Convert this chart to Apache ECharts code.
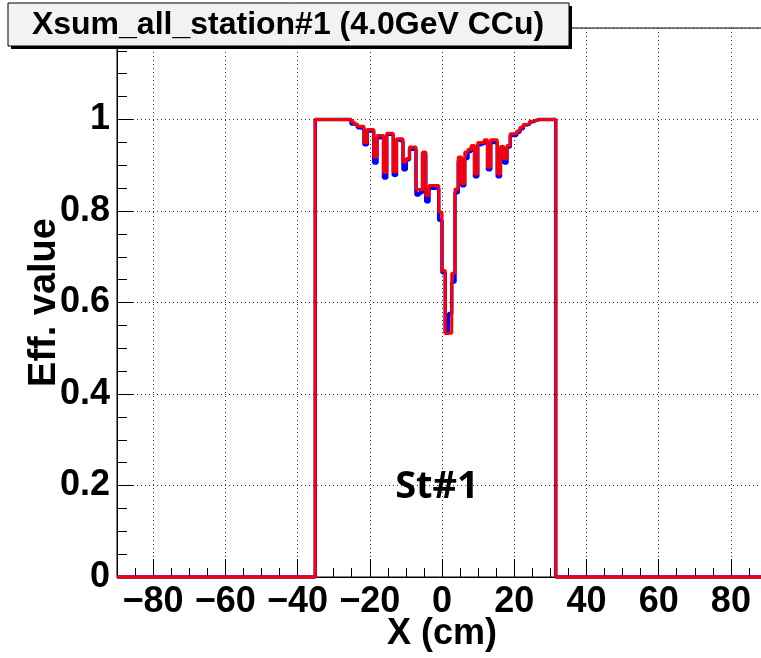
<!DOCTYPE html>
<html>
<head>
<meta charset="utf-8">
<script src="https://cdn.jsdelivr.net/npm/echarts@6/dist/echarts.min.js"></script>
<style>
  html, body { margin: 0; padding: 0; background: #fff; }
  #chart { width: 761px; height: 658px; }
</style>
</head>
<body>
<div id="chart"></div>
<script>
// histogram bins: 200 bins of 0.9 cm from -90 to 90, only the filled ones listed
var xMin = -90, xMax = 90;
var firstEdge = -35.1, binWidth = 0.9;
var yTicks = [0, 0.2, 0.4, 0.6, 0.8, 1];

var redEff = [
  1, 1, 1, 1, 1, 1, 1, 1, 1, 1, 1,
  0.995, 0.99, 0.985, 0.985, 0.95, 0.978, 0.978, 0.918, 0.965, 0.965,
  0.884, 0.97, 0.97, 0.885, 0.958, 0.958, 0.907, 0.915, 0.94, 0.94,
  0.847, 0.847, 0.929, 0.834, 0.856, 0.856, 0.856, 0.798, 0.67, 0.533,
  0.533, 0.664, 0.848, 0.918, 0.86, 0.929, 0.935, 0.943, 0.881, 0.95,
  0.95, 0.956, 0.896, 0.956, 0.956, 0.881, 0.941, 0.914, 0.943, 0.969,
  0.969, 0.975, 0.983, 0.989, 0.991, 0.996, 0.998,
  1, 1, 1, 1, 1, 1
];
var blueEff = [
  1, 1, 1, 1, 1, 1, 1, 1, 1, 1, 1,
  0.99, 0.988, 0.982, 0.98, 0.945, 0.975, 0.975, 0.905, 0.96, 0.962,
  0.872, 0.968, 0.966, 0.878, 0.955, 0.952, 0.89, 0.912, 0.935, 0.935,
  0.835, 0.84, 0.925, 0.82, 0.85, 0.85, 0.85, 0.78, 0.665, 0.533,
  0.576, 0.645, 0.84, 0.91, 0.855, 0.915, 0.93, 0.94, 0.875, 0.945,
  0.948, 0.952, 0.89, 0.95, 0.95, 0.875, 0.935, 0.905, 0.94, 0.965,
  0.965, 0.972, 0.98, 0.988, 0.99, 0.995, 0.998,
  1, 1, 1, 1, 1, 1
];

function histPoints(vals) {
  var pts = [[xMin, 0]];
  vals.forEach(function (v, i) {
    pts.push([+(firstEdge + i * binWidth).toFixed(2), v]);
  });
  pts.push([+(firstEdge + vals.length * binWidth).toFixed(2), 0]);
  pts.push([xMax, 0]);
  return pts;
}

var font = 'Liberation Sans, Arial, sans-serif';
var myChart = echarts.init(document.getElementById('chart'));

var option = {
  animation: false,
  grid: {
    left: 117, top: 28, right: -6, bottom: 81,
    outerBoundsMode: 'none',
    show: true, borderColor: '#000', borderWidth: 1, backgroundColor: '#fff'
  },
  xAxis: [
    {
      type: 'value', min: xMin, max: xMax, splitNumber: 9,
      name: 'X (cm)', nameLocation: 'middle', nameGap: 39, nameMoveOverlap: false,
      nameTextStyle: { fontFamily: font, fontWeight: 'bold', fontSize: 36, color: '#000' },
      axisLine: { show: true, onZero: false, lineStyle: { color: '#000', width: 1 } },
      axisTick: { show: true, inside: true, length: 18, lineStyle: { color: '#000' } },
      axisLabel: {
        margin: 7, fontFamily: font, fontWeight: 'bold', fontSize: 36, color: '#000',
        showMinLabel: false, showMaxLabel: false,
        formatter: function (v) { return String(v).replace('-', '\u2212'); }
      },
      splitLine: { show: true, lineStyle: { color: '#333', type: [1, 3], width: 1 } }
    },
    {
      // minor ticks every 5 cm
      type: 'value', min: xMin, max: xMax, interval: 5, position: 'bottom',
      axisLine: { show: false },
      axisTick: { show: true, inside: true, length: 9, lineStyle: { color: '#000' } },
      axisLabel: { show: false },
      splitLine: { show: false }
    }
  ],
  yAxis: {
    type: 'value', min: 0, max: 1.2, interval: 0.2,
    name: 'Eff. value', nameLocation: 'middle', nameGap: 53, nameMoveOverlap: false,
    nameTextStyle: { fontFamily: font, fontWeight: 'bold', fontSize: 38, color: '#000' },
    axisLine: { show: true, onZero: false, lineStyle: { color: '#000', width: 1 } },
    axisTick: { show: true, inside: true, length: 16, lineStyle: { color: '#000' } },
    minorTick: { show: true, splitNumber: 4, length: 10, lineStyle: { color: '#000' } },
    axisLabel: {
      margin: 7, fontFamily: font, fontWeight: 'bold', fontSize: 36, color: '#000',
      formatter: function (v) { return yTicks.indexOf(+v.toFixed(1)) >= 0 ? String(+v.toFixed(1)) : ''; }
    },
    splitLine: { show: true, lineStyle: { color: '#333', type: [1, 3], width: 1 } }
  },
  series: [
    {
      name: 'blue', type: 'line', step: 'end', showSymbol: false, symbol: 'none',
      clip: false, data: histPoints(blueEff),
      lineStyle: { color: '#0000ff', width: 3.5 }
    },
    {
      name: 'red', type: 'line', step: 'end', showSymbol: false, symbol: 'none',
      clip: false, data: histPoints(redEff),
      lineStyle: { color: '#ff0000', width: 3 }
    }
  ],
  graphic: [
    { type: 'rect', shape: { x: 11, y: 6, width: 561, height: 43 }, style: { fill: '#000' }, z: 100 },
    { type: 'rect', shape: { x: 8, y: 3, width: 561, height: 43 }, style: { fill: '#f2f2f2', stroke: '#000', lineWidth: 1 }, z: 101 },
    {
      type: 'text', x: 288, y: 25, z: 102,
      style: {
        text: 'Xsum_all_station#1 (4.0GeV CCu)',
        fill: '#000', font: 'bold 32px Liberation Sans, Arial, sans-serif',
        textAlign: 'center', textVerticalAlign: 'middle'
      }
    },
    {
      type: 'text', x: 437, y: 487, z: 102,
      style: {
        text: 'St#1', fill: '#000',
        font: 'bold 38px "Open Sans", sans-serif',
        textAlign: 'center', textVerticalAlign: 'middle'
      }
    }
  ]
};
myChart.setOption(option);
</script>
</body>
</html>
